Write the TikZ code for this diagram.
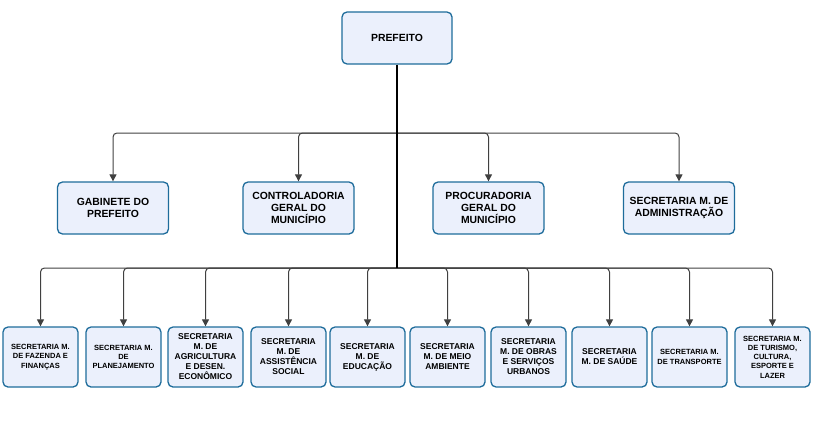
\documentclass[tikz,border=0pt]{standalone}
\usepackage{fontspec}
\setmainfont{Liberation Sans}
\usetikzlibrary{arrows.meta, positioning}
\definecolor{boxline}{RGB}{30,108,155}
\definecolor{boxfill}{RGB}{235,240,252}
\tikzset{
    orgbox/.style={draw=boxline, fill=boxfill, line width=1.3pt, rounded corners=5pt, align=center, font=\bfseries, inner sep=2pt},
    chief/.style={orgbox, minimum width=110pt, minimum height=52pt, font=\bfseries\fontsize{10.4}{12}\selectfont},
    office/.style={orgbox, minimum width=111pt, minimum height=52pt, font=\bfseries\fontsize{10.4}{12}\selectfont},
    dept/.style={orgbox, minimum width=75pt, minimum height=60pt, font=\bfseries\fontsize{8.5}{10}\selectfont},
    deptsmall/.style={dept, font=\bfseries\fontsize{7.5}{9.3}\selectfont},
    link/.style={draw=black!75, line width=1pt, rounded corners=4pt, -{Triangle[width=7pt,length=7pt]}},
    trunk/.style={draw=black, line width=1.4pt},
}
\begin{document}
\begin{tikzpicture}[x=1pt, y=-1pt]
    \useasboundingbox (0,0) rectangle (816,428);

    \node[chief] (pref) at (397,38) {PREFEITO};

    % gabinete e orgaos de assessoria
    \node[office] (gab) at (113,208) {GABINETE DO\\PREFEITO};
    \node[office] (cgm) at (298.5,208) {CONTROLADORIA\\GERAL DO\\MUNICÍPIO};
    \node[office] (pgm) at (488.5,208) {PROCURADORIA\\GERAL DO\\MUNICÍPIO};
    \node[office] (adm) at (679,208) {SECRETARIA M. DE\\ADMINISTRAÇÃO};

    % secretarias
    \node[deptsmall] (faz) at (40.5,357) {SECRETARIA M.\\DE FAZENDA E\\FINANÇAS};
    \node[deptsmall] (plan) at (123.5,357) {SECRETARIA M.\\DE\\PLANEJAMENTO};
    \node[dept] (agri) at (205.5,357) {SECRETARIA\\M. DE\\AGRICULTURA\\E DESEN.\\ECONÔMICO};
    \node[dept] (asst) at (288.5,357) {SECRETARIA\\M. DE\\ASSISTÊNCIA\\SOCIAL};
    \node[dept] (edu) at (367.5,357) {SECRETARIA\\M. DE\\EDUCAÇÃO};
    \node[dept] (amb) at (447.5,357) {SECRETARIA\\M. DE MEIO\\AMBIENTE};
    \node[dept] (obras) at (528.5,357) {SECRETARIA\\M. DE OBRAS\\E SERVIÇOS\\URBANOS};
    \node[dept] (saude) at (609.5,357) {SECRETARIA\\M. DE SAÚDE};
    \node[deptsmall] (transp) at (689.5,357) {SECRETARIA M.\\DE TRANSPORTE};
    \node[deptsmall] (tur) at (772.5,357) {SECRETARIA M.\\DE TURISMO,\\CULTURA,\\ESPORTE E\\LAZER};

    \coordinate (upper) at (397,133);
    \coordinate (lower) at (397,268);

    \draw[link] (upper) -| (gab);
    \draw[link] (upper) -| (cgm);
    \draw[link] (upper) -| (pgm);
    \draw[link] (upper) -| (adm);

    \draw[link] (lower) -| (faz);
    \draw[link] (lower) -| (plan);
    \draw[link] (lower) -| (agri);
    \draw[link] (lower) -| (asst);
    \draw[link] (lower) -| (edu);
    \draw[link] (lower) -| (amb);
    \draw[link] (lower) -| (obras);
    \draw[link] (lower) -| (saude);
    \draw[link] (lower) -| (transp);
    \draw[link] (lower) -| (tur);

    \draw[trunk] (pref) -- (lower);
\end{tikzpicture}
\end{document}
